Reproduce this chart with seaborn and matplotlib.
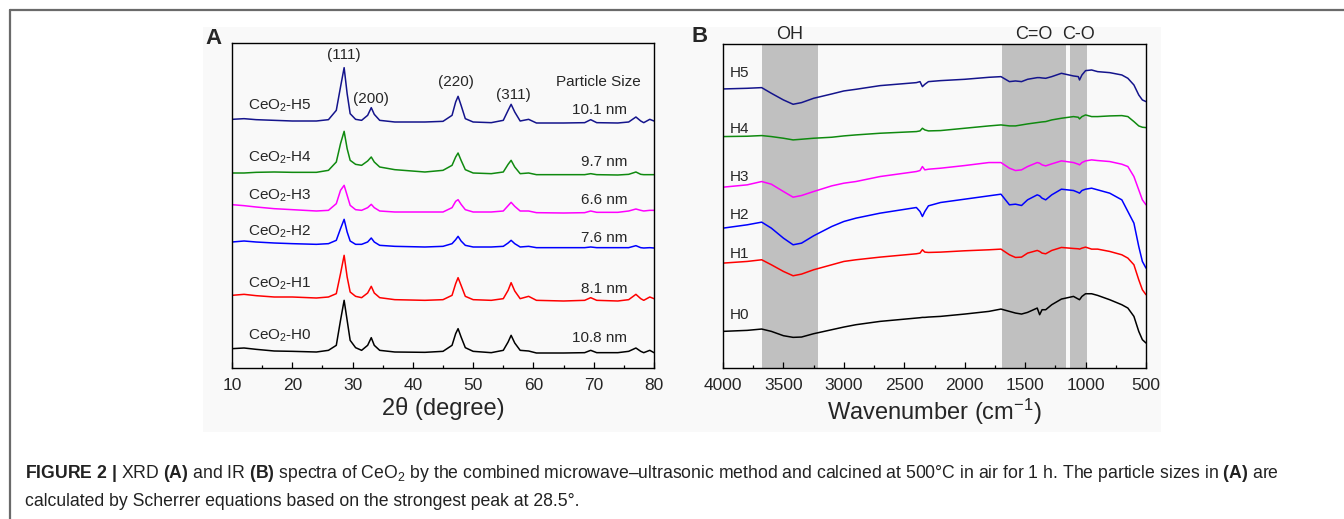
import numpy as np
import pandas as pd
import matplotlib
matplotlib.use("Agg")
import matplotlib.pyplot as plt
import seaborn as sns
from matplotlib.patches import Rectangle
from matplotlib.lines import Line2D

# ---------------- data: XRD (panel A) ----------------
XRD_2THETA = [10, 12, 14, 17, 20, 24, 26, 27.3, 28.0, 28.6, 29.1, 29.6, 30.5, 31.5, 32.5, 33.1,
              33.6, 34.5, 37, 42, 45, 46.5, 47.1, 47.5, 48.0, 48.7, 50, 53, 55, 55.8, 56.3, 56.9,
              57.8, 59.2, 60.5, 65, 68.5, 69.5, 70.5, 74, 75.8, 77.0, 77.8, 78.3, 79.3, 80]
XRD_H0 = [58, 60, 56, 51, 50, 48, 53, 68, 143, 203, 143, 83, 61, 53, 68, 91, 68, 53, 48, 47, 50, 68,
          103, 118, 93, 61, 50, 46, 53, 78, 98, 75, 53, 51, 45, 45, 46, 53, 46, 46, 50, 60, 50, 46, 53, 46]
XRD_H1 = [218, 221, 217, 213, 213, 210, 213, 223, 283, 338, 273, 228, 215, 211, 225, 245, 225, 211, 205,
          203, 205, 218, 253, 271, 248, 215, 205, 203, 208, 233, 256, 231, 208, 215, 203, 201, 203, 211,
          203, 201, 205, 221, 208, 203, 213, 208]
XRD_H2 = [378, 381, 378, 375, 373, 371, 373, 383, 418, 446, 408, 381, 371, 371, 378, 390, 378, 368, 365,
          363, 365, 373, 385, 395, 381, 368, 363, 363, 365, 375, 383, 373, 363, 365, 361, 361, 361, 363,
          361, 361, 361, 367, 361, 360, 361, 360]
XRD_H3 = [490, 487, 483, 478, 475, 471, 473, 493, 533, 548, 518, 488, 475, 473, 481, 491, 481, 471, 468,
          468, 468, 481, 500, 505, 491, 475, 468, 468, 471, 487, 497, 485, 471, 471, 466, 465, 466, 471,
          467, 467, 471, 477, 473, 471, 473, 473]
XRD_H4 = [585, 585, 587, 588, 587, 587, 593, 618, 673, 710, 658, 623, 611, 608, 621, 633, 618, 603, 595,
          588, 593, 608, 633, 645, 623, 595, 585, 583, 588, 611, 623, 603, 583, 585, 580, 580, 580, 583,
          580, 579, 581, 588, 581, 580, 580, 580]
XRD_H5 = [746, 748, 745, 743, 741, 741, 745, 773, 843, 901, 823, 763, 746, 743, 758, 781, 761, 743, 738,
          738, 740, 758, 798, 815, 788, 748, 738, 736, 743, 773, 791, 768, 741, 746, 735, 735, 736, 745,
          736, 735, 738, 753, 741, 736, 746, 741]
SAMPLES = ["H0", "H1", "H2", "H3", "H4", "H5"]
XRD_LABELS = ["CeO$_2$-H0", "CeO$_2$-H1", "CeO$_2$-H2", "CeO$_2$-H3", "CeO$_2$-H4", "CeO$_2$-H5"]
PARTICLE_SIZES = ["10.8 nm", "8.1 nm", "7.6 nm", "6.6 nm", "9.7 nm", "10.1 nm"]
MILLER_LABELS = ["(111)", "(200)", "(220)", "(311)"]
MILLER_2THETA = [28.5, 33.1, 47.2, 56.7]

# ---------------- data: IR (panel B) ----------------
IR_WAVENUMBER = [4000, 3800, 3680, 3600, 3500, 3420, 3350, 3250, 3100, 3000, 2900, 2700, 2400, 2370,
                 2350, 2330, 2300, 2200, 2000, 1800, 1700, 1630, 1580, 1530, 1480, 1400, 1380, 1360,
                 1330, 1280, 1200, 1100, 1060, 1050, 1030, 1000, 950, 900, 800, 700, 650, 600, 560, 530, 500]
IR_H5 = [838, 840, 842, 825, 805, 792, 797, 810, 823, 832, 837, 848, 857, 860, 845, 852, 860, 863, 867,
         873, 875, 860, 862, 860, 867, 872, 872, 871, 870, 875, 885, 877, 875, 865, 880, 893, 895, 890,
         887, 880, 870, 850, 820, 805, 800]
IR_H4 = [695, 696, 698, 695, 690, 685, 687, 690, 693, 697, 700, 705, 710, 712, 720, 715, 712, 713, 720,
         727, 730, 727, 727, 730, 733, 737, 738, 739, 740, 745, 750, 755, 753, 748, 755, 760, 755, 755,
         757, 758, 755, 740, 727, 723, 722]
IR_H3 = [543, 550, 560, 552, 530, 513, 518, 530, 547, 555, 560, 575, 590, 593, 605, 595, 597, 600, 608,
         617, 617, 600, 593, 595, 605, 617, 615, 610, 607, 613, 622, 617, 612, 610, 617, 622, 625, 623,
         620, 612, 605, 575, 535, 505, 490]
IR_H2 = [420, 430, 438, 420, 390, 370, 375, 397, 425, 440, 450, 465, 482, 470, 455, 470, 487, 497, 507,
         517, 522, 490, 492, 488, 505, 520, 517, 510, 505, 520, 537, 533, 527, 525, 533, 537, 540, 535,
         525, 505, 470, 435, 365, 320, 300]
IR_H1 = [315, 320, 325, 310, 290, 277, 282, 295, 310, 320, 325, 333, 343, 345, 355, 348, 347, 348, 352,
         355, 357, 340, 332, 333, 345, 353, 350, 345, 343, 353, 362, 359, 358, 357, 360, 363, 357, 357,
         350, 340, 330, 310, 265, 235, 220]
IR_H0 = [110, 113, 117, 110, 97, 92, 93, 103, 115, 123, 130, 140, 150, 151, 152, 152, 153, 155, 162,
         170, 177, 170, 165, 162, 167, 180, 160, 175, 175, 190, 207, 215, 207, 205, 215, 223, 223, 218,
         205, 190, 180, 155, 110, 85, 75]
BAND_START = [3680, 1690, 1125]
BAND_END = [3210, 1165, 985]
BAND_LABELS = ["OH", "C=O", "C-O"]

COLORS = {"H0": "#000000", "H1": "#ff0000", "H2": "#0000ff", "H3": "#ff00ff",
          "H4": "#108a10", "H5": "#14148c"}

# ---------------- style ----------------
sns.set_style("white")
plt.rcParams["font.family"] = ["Liberation Sans", "DejaVu Sans"]
plt.rcParams["mathtext.fontset"] = "custom"
plt.rcParams["mathtext.rm"] = "Liberation Sans"
plt.rcParams["mathtext.it"] = "Liberation Sans:italic"
plt.rcParams["mathtext.bf"] = "Liberation Sans:bold"

W, H = 1344, 519
fig = plt.figure(figsize=(W / 100, H / 100), dpi=100)
fig.patch.set_facecolor("white")

# panel background and outer frame
fig.add_artist(Rectangle((203 / W, 1 - 432 / H), (1161 - 203) / W, (432 - 27) / H,
                         transform=fig.transFigure, facecolor="#f9f9f9", edgecolor="none", zorder=0))
fig.add_artist(Line2D([10 / W, 1], [1 - 10 / H, 1 - 10 / H], transform=fig.transFigure,
                      color="#6a6a6a", lw=1.6))
fig.add_artist(Line2D([10 / W, 10 / W], [0, 1 - 10 / H], transform=fig.transFigure,
                      color="#6a6a6a", lw=1.6))

axA = fig.add_axes([232 / W, 1 - 368 / H, 422 / W, 325 / H])
axB = fig.add_axes([723 / W, 1 - 368 / H, 423 / W, 324 / H])

for ax in (axA, axB):
    ax.set_facecolor("#f9f9f9")
    for s in ax.spines.values():
        s.set_color("black")
        s.set_linewidth(1.0)
    ax.tick_params(axis="x", which="both", direction="in", top=False, bottom=True,
                   labelsize=12.5, pad=7, color="black")
    ax.tick_params(axis="x", which="major", length=4, width=0.9)
    ax.tick_params(axis="x", which="minor", length=2.5, width=0.9)
    ax.set_yticks([])

# ---------------- panel A ----------------
xrd_vals = [XRD_H0, XRD_H1, XRD_H2, XRD_H3, XRD_H4, XRD_H5]
dfA = pd.concat([pd.DataFrame({"two_theta": XRD_2THETA, "intensity": v, "sample": s})
                 for s, v in zip(SAMPLES, xrd_vals)], ignore_index=True)
sns.lineplot(data=dfA, x="two_theta", y="intensity", hue="sample", palette=COLORS,
             estimator=None, legend=False, linewidth=1.1, ax=axA)
axA.set_xlim(10, 80)
axA.set_ylim(0, 975)
axA.set_xticks(np.arange(10, 81, 10))
axA.set_xticks(np.arange(15, 80, 10), minor=True)
axA.set_xlabel("2θ (degree)", fontsize=17, labelpad=3)
axA.set_ylabel("Intensity (a.u.)", fontsize=17, labelpad=4)

label_y_A = [98, 253, 410, 518, 630, 788]
size_y_A = [90, 238, 390, 503, 619, 773]
for lab, ly, sz, sy in zip(XRD_LABELS, label_y_A, PARTICLE_SIZES, size_y_A):
    axA.text(12.7, ly, lab, fontsize=11, ha="left", va="center")
    axA.text(75.6, sy, sz, fontsize=11, ha="right", va="center")
axA.text(70.8, 858, "Particle Size", fontsize=11, ha="center", va="center")
miller_y = [940, 806, 858, 818]
for lab, x, y in zip(MILLER_LABELS, MILLER_2THETA, miller_y):
    axA.text(x, y, lab, fontsize=11, ha="center", va="center")

fig.text(213 / W, 1 - 39 / H, "A", fontsize=16, fontweight="bold", ha="center", va="center")

# ---------------- panel B ----------------
ir_vals = [IR_H0, IR_H1, IR_H2, IR_H3, IR_H4, IR_H5]
dfB = pd.concat([pd.DataFrame({"wavenumber": IR_WAVENUMBER, "intensity": v, "sample": s})
                 for s, v in zip(SAMPLES, ir_vals)], ignore_index=True)
for a, b in zip(BAND_START, BAND_END):
    axB.axvspan(b, a, color="#c0c0c0", lw=0, zorder=0.5)
sns.lineplot(data=dfB, x="wavenumber", y="intensity", hue="sample", palette=COLORS,
             estimator=None, legend=False, linewidth=1.1, ax=axB)
axB.set_xlim(4000, 500)
axB.set_ylim(0, 973)
axB.set_xticks(np.arange(4000, 499, -500))
axB.set_xticks(np.arange(3750, 500, -500), minor=True)
axB.set_xlabel("Wavenumber (cm$^{-1}$)", fontsize=17, labelpad=3)
axB.set_ylabel("Intensity (a.u.)", fontsize=17, labelpad=4)

for a, b, lab in zip(BAND_START, BAND_END, BAND_LABELS):
    axB.text((a + b) / 2, 1.028, lab, fontsize=13, ha="center", va="center",
             transform=axB.get_xaxis_transform())
label_y_B = [160, 342, 460, 575, 717, 885]
for s, ly in zip(SAMPLES, label_y_B):
    axB.text(3945, ly, s, fontsize=11, ha="left", va="center")

fig.text(700 / W, 1 - 37 / H, "B", fontsize=16, fontweight="bold", ha="center", va="center")

# ---------------- caption ----------------
cap1 = (r"$\mathbf{FIGURE\ 2\ |}$ XRD $\mathbf{(A)}$ and IR $\mathbf{(B)}$ spectra of CeO$_2$ by the "
        r"combined microwave–ultrasonic method and calcined at 500°C in air for 1 h. The particle sizes in "
        r"$\mathbf{(A)}$ are")
cap2 = "calculated by Scherrer equations based on the strongest peak at 28.5°."
fig.text(25 / W, 1 - 473 / H, cap1, fontsize=12.7, ha="left", va="center", color="#222222")
fig.text(25 / W, 1 - 502 / H, cap2, fontsize=12.7, ha="left", va="center", color="#222222")

fig.savefig("out.png", dpi=100, facecolor="white")
